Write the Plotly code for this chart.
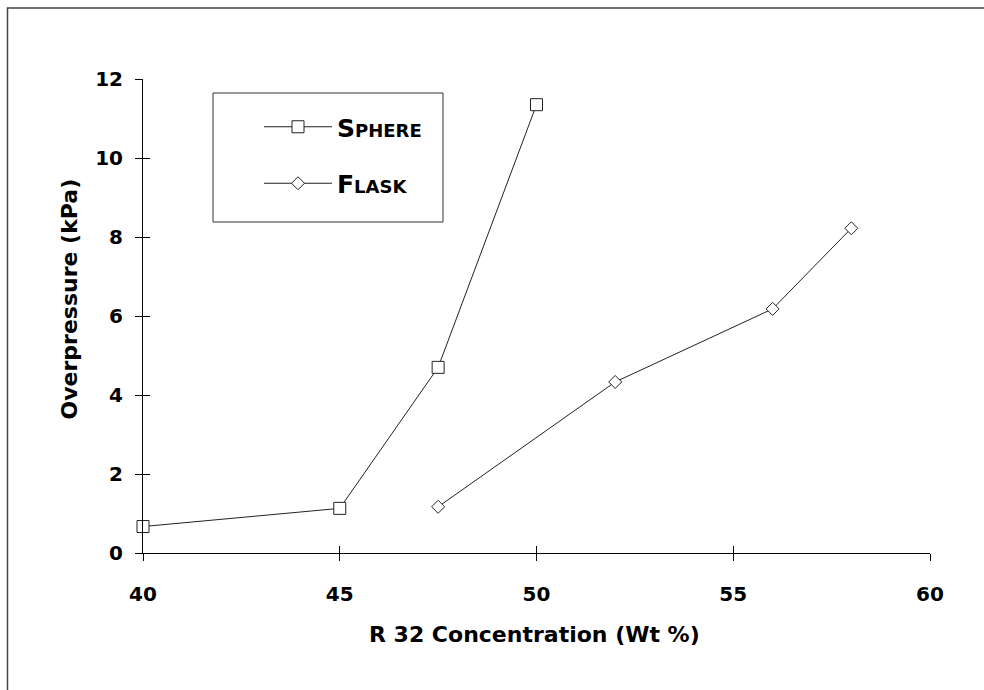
import plotly.graph_objects as go

# ---- data ----
sphere_x = [40, 45, 47.5, 50]
sphere_y = [0.67, 1.13, 4.70, 11.35]
flask_x = [47.5, 52, 56, 58]
flask_y = [1.17, 4.33, 6.18, 8.22]
x_ticks = [40, 45, 50, 55, 60]
y_ticks = [0, 2, 4, 6, 8, 10, 12]

W, H = 984, 690
ML, MR, MT, MB = 143, 54, 79, 137
pw, ph = W - ML - MR, H - MT - MB

def px(x):
    return (x - ML) / pw

def py(y):
    return (H - MB - y) / ph

line_col = "#222222"
tick_font = dict(family="DejaVu Sans", size=20, color="black", weight="bold")

fig = go.Figure()
fig.add_trace(go.Scatter(
    x=sphere_x, y=sphere_y, name="Sphere", mode="lines+markers",
    line=dict(color=line_col, width=1),
    marker=dict(symbol="square", size=12, color="white", line=dict(color=line_col, width=1)),
    cliponaxis=False, legendgroup="a"))
fig.add_trace(go.Scatter(
    x=flask_x, y=flask_y, name="Flask", mode="lines+markers",
    line=dict(color=line_col, width=1),
    marker=dict(symbol="diamond", size=10, color="white", line=dict(color=line_col, width=1)),
    cliponaxis=False, legendgroup="b"))
# helper trace for cross-tick overlay axes
fig.add_trace(go.Scatter(x=[None], y=[None], xaxis="x2", yaxis="y2", showlegend=False, hoverinfo="skip"))

fig.update_layout(
    width=W, height=H,
    margin=dict(l=ML, r=MR, t=MT, b=MB, pad=0),
    paper_bgcolor="white", plot_bgcolor="white",
    showlegend=True,
    xaxis=dict(range=[40, 60], tickvals=x_ticks, ticks="outside", ticklen=7, tickcolor="black",
               showline=True, linecolor="black", linewidth=1, showgrid=False, zeroline=False,
               tickfont=tick_font, ticklabelstandoff=16),
    yaxis=dict(range=[0, 12], tickvals=y_ticks, ticks="outside", ticklen=7, tickcolor="black",
               showline=True, linecolor="black", linewidth=1, showgrid=False, zeroline=False,
               tickfont=tick_font, ticklabelstandoff=8),
    xaxis2=dict(range=[40, 60], tickvals=x_ticks, ticks="inside", ticklen=7, tickcolor="black",
                overlaying="x", anchor="y2", showticklabels=False, showline=False,
                showgrid=False, zeroline=False),
    yaxis2=dict(range=[0, 12], tickvals=y_ticks, ticks="inside", ticklen=7, tickcolor="black",
                overlaying="y", anchor="x2", showticklabels=False, showline=False,
                showgrid=False, zeroline=False),
    legend=dict(x=px(259), y=py(104), xanchor="left", yanchor="top",
                borderwidth=0, bgcolor="rgba(0,0,0,0)",
                font=dict(family="DejaVu Sans", size=25, color="black",
                          variant="small-caps", weight="bold"),
                traceorder="grouped", tracegroupgap=21, itemwidth=68),
    annotations=[
        dict(text="R 32 Concentration (Wt %)", xref="paper", yref="paper",
             x=px(534), y=py(634), xanchor="center", yanchor="middle", showarrow=False,
             font=dict(family="DejaVu Sans", size=22, color="black", weight="bold")),
        dict(text="Overpressure (kPa)", xref="paper", yref="paper", textangle=-90,
             x=px(68.5), y=py(299), xanchor="center", yanchor="middle", showarrow=False,
             font=dict(family="DejaVu Sans", size=22, color="black", weight="bold")),
    ],
    shapes=[
        dict(type="rect", xref="paper", yref="paper",
             x0=px(7.5), y0=py(H + 20), x1=px(W + 20), y1=py(8),
             line=dict(color="#444444", width=1.5), fillcolor="rgba(0,0,0,0)", layer="below"),
        dict(type="rect", xref="paper", yref="paper",
             x0=px(213), y0=py(222), x1=px(443), y1=py(93),
             line=dict(color="#333333", width=1), fillcolor="rgba(0,0,0,0)", layer="above"),
    ],
)

fig.write_html("out.html")
